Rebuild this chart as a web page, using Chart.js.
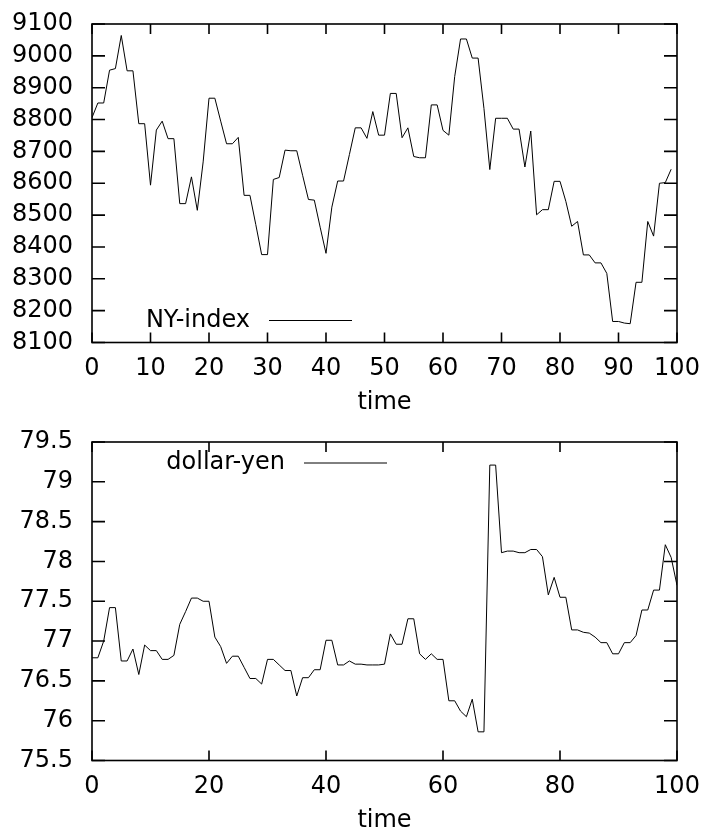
<!DOCTYPE html>
<html>
<head>
<meta charset="utf-8">
<script src="https://cdn.jsdelivr.net/npm/chart.js@4.4.1/dist/chart.umd.min.js"></script>
<style>
  html, body { margin: 0; padding: 0; background: #fff; overflow: hidden; }
  .box { position: absolute; left: 0; width: 704px; height: 418px; }
</style>
</head>
<body>
<div class="box" style="top:0"><canvas id="nyChart" width="704" height="418"></canvas></div>
<div class="box" style="top:418px"><canvas id="yenChart" width="704" height="418"></canvas></div>
<script>
// values, one per time step
let nyIndex = [
  8806, 8852, 8852, 8955, 8960, 9064, 8953, 8953, 8787, 8787,
  8594, 8767, 8795, 8740, 8740, 8536, 8536, 8620, 8515, 8667,
  8867, 8867, 8795, 8724, 8724, 8744, 8562, 8562, 8470, 8376,
  8376, 8612, 8618, 8704, 8702, 8702, 8625, 8549, 8547, 8462,
  8380, 8525, 8607, 8607, 8690, 8774, 8774, 8741, 8825, 8751,
  8751, 8882, 8882, 8743, 8774, 8684, 8680, 8680, 8846, 8846,
  8766, 8751, 8935, 9053, 9053, 8993, 8993, 8835, 8643, 8804,
  8804, 8804, 8770, 8770, 8651, 8764, 8501, 8517, 8517, 8606,
  8606, 8543, 8465, 8480, 8375, 8375, 8350, 8350, 8317, 8166,
  8166, 8161, 8159, 8289, 8289, 8480, 8434, 8600, 8602, 8644
];
let dollarYen = [
  76.79, 76.79, 77.00, 77.42, 77.42, 76.75, 76.75, 76.90, 76.58, 76.95,
  76.88, 76.88, 76.77, 76.77, 76.82, 77.21, 77.37, 77.54, 77.54, 77.50,
  77.50, 77.05, 76.93, 76.72, 76.81, 76.81, 76.67, 76.53, 76.53, 76.46,
  76.77, 76.77, 76.70, 76.63, 76.63, 76.31, 76.54, 76.54, 76.64, 76.64,
  77.01, 77.01, 76.70, 76.70, 76.75, 76.71, 76.71, 76.70, 76.70, 76.70,
  76.71, 77.09, 76.96, 76.96, 77.28, 77.28, 76.84, 76.77, 76.84, 76.77,
  76.77, 76.25, 76.25, 76.12, 76.05, 76.27, 75.86, 75.86, 79.21, 79.21,
  78.11, 78.13, 78.13, 78.11, 78.11, 78.15, 78.15, 78.06, 77.58, 77.80,
  77.55, 77.55, 77.14, 77.14, 77.11, 77.10, 77.05, 76.98, 76.98, 76.84,
  76.84, 76.98, 76.98, 77.07, 77.39, 77.39, 77.64, 77.64, 78.21, 78.05,
  77.70
];
let timeTicksTop = [0, 10, 20, 30, 40, 50, 60, 70, 80, 90, 100];
let timeTicksBottom = [0, 20, 40, 60, 80, 100];
let nyTicks = [8100, 8200, 8300, 8400, 8500, 8600, 8700, 8800, 8900, 9000, 9100];
let yenTicks = [75.5, 76, 76.5, 77, 77.5, 78, 78.5, 79, 79.5];

let font = { family: "DejaVu Sans", size: 24 };

// gnuplot style box: frame, inward ticks on all four sides, key inside
let framePlugin = {
  id: "frame",
  afterDatasetsDraw(chart, args, opts) {
    let ctx = chart.ctx;
    let a = chart.chartArea;
    let x = chart.scales.x;
    let y = chart.scales.y;
    ctx.save();
    ctx.strokeStyle = "#000";
    ctx.lineWidth = 1.6;
    ctx.strokeRect(a.left, a.top, a.right - a.left, a.bottom - a.top);
    ctx.beginPath();
    x.ticks.forEach((t) => {
      let px = x.getPixelForValue(t.value);
      ctx.moveTo(px, a.bottom);
      ctx.lineTo(px, a.bottom - 10);
      ctx.moveTo(px, a.top);
      ctx.lineTo(px, a.top + 10);
    });
    y.ticks.forEach((t) => {
      let py = y.getPixelForValue(t.value);
      ctx.moveTo(a.left, py);
      ctx.lineTo(a.left + 13, py);
      ctx.moveTo(a.right, py);
      ctx.lineTo(a.right - 13, py);
    });
    ctx.stroke();

    // key
    let ds = chart.data.datasets[0];
    ctx.fillStyle = "#000";
    ctx.font = "24px 'DejaVu Sans'";
    ctx.textAlign = "right";
    ctx.textBaseline = "middle";
    ctx.fillText(ds.label, opts.keyX - 19, opts.keyY);
    ctx.lineWidth = 1;
    ctx.beginPath();
    ctx.moveTo(opts.keyX, opts.keyY);
    ctx.lineTo(opts.keyX + 83, opts.keyY);
    ctx.stroke();
    ctx.restore();
  },
};

function makeChart(id, label, values, xTicks, yTicks, keyX, keyY) {
  let points = values.map((v, i) => ({ x: i, y: v }));
  return new Chart(document.getElementById(id), {
    type: "line",
    data: {
      datasets: [
        {
          label: label,
          data: points,
          borderColor: "#000",
          borderWidth: 1,
          pointRadius: 0,
          tension: 0,
          fill: false,
        },
      ],
    },
    options: {
      responsive: false,
      animation: false,
      layout: { padding: { top: 24, right: 27, left: 0, bottom: 0 } },
      plugins: {
        legend: { display: false },
        tooltip: { enabled: false },
        frame: { keyX: keyX, keyY: keyY },
      },
      scales: {
        x: {
          type: "linear",
          min: 0,
          max: 100,
          afterBuildTicks: (s) => { s.ticks = xTicks.map((v) => ({ value: v })); },
          afterFit: (s) => {
            s.height = 75.5;
            s.paddingLeft = 0;
            s.paddingRight = 0;
          },
          grid: { display: false, drawTicks: false },
          border: { display: false },
          ticks: { color: "#000", font: font, padding: 12, maxRotation: 0, autoSkip: false, callback: (v) => String(v) },
          title: { display: true, text: "time", color: "#000", font: font, padding: { top: 0, bottom: 1 } },
        },
        y: {
          type: "linear",
          min: yTicks[0],
          max: yTicks[yTicks.length - 1],
          afterBuildTicks: (s) => { s.ticks = yTicks.map((v) => ({ value: v })); },
          afterFit: (s) => {
            s.width = 92;
            s.paddingTop = 0;
            s.paddingBottom = 0;
          },
          grid: { display: false, drawTicks: false },
          border: { display: false },
          ticks: { color: "#000", font: font, padding: 19, autoSkip: false, callback: (v) => String(v) },
        },
      },
    },
    plugins: [framePlugin],
  });
}

makeChart("nyChart", "NY-index", nyIndex, timeTicksTop, nyTicks, 269, 320.5);
makeChart("yenChart", "dollar-yen", dollarYen, timeTicksBottom, yenTicks, 304, 45);
</script>
</body>
</html>
